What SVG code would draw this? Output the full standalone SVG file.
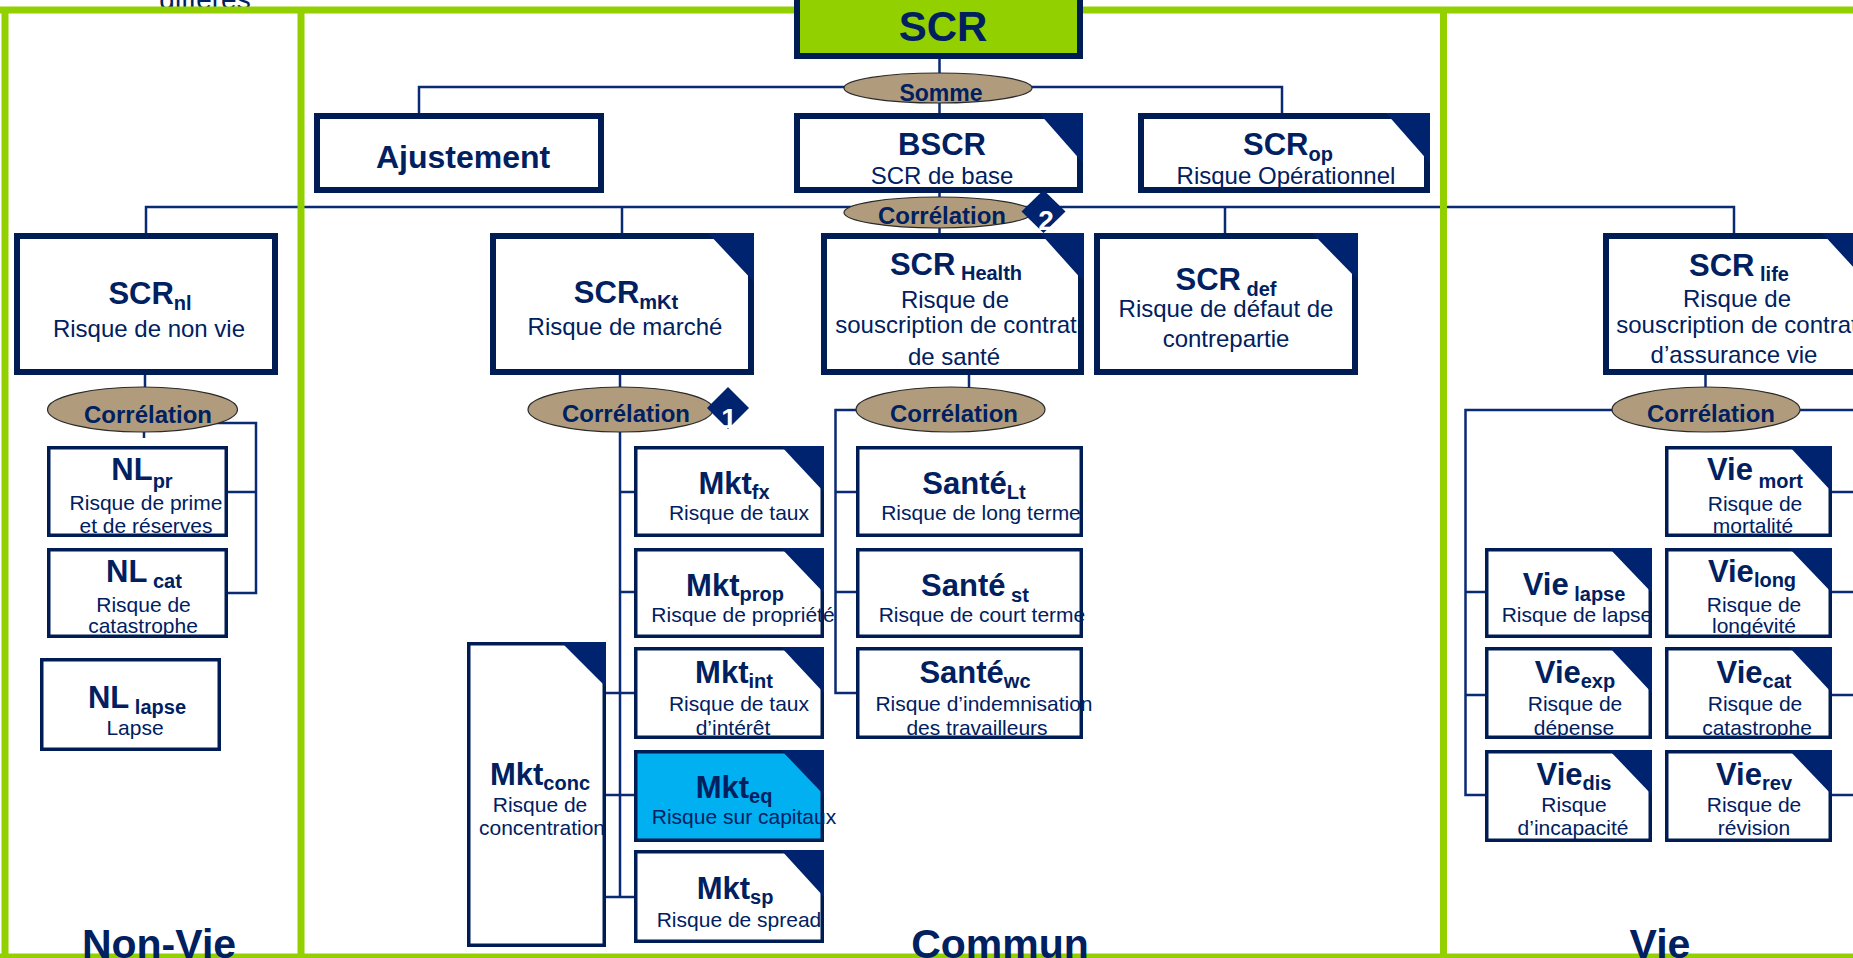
<svg xmlns="http://www.w3.org/2000/svg" width="1853" height="958" viewBox="0 0 1853 958">
<style>
.frame{stroke:#92D000;stroke-width:7;fill:none}
.conn{stroke:#0A2A73;stroke-width:2.5;fill:none}
.big{fill:#fff;stroke:#001C55;stroke-width:6}
.small{fill:#fff;stroke:#001C55;stroke-width:3.5}
.tri{fill:#00236F}
.ell{fill:#B09C7C;stroke:#2a2a2a;stroke-width:1.2}
.dia{fill:#00236F}
text{font-family:"Liberation Sans",Arial,sans-serif;fill:#002060;text-anchor:middle}
.title{font-weight:bold;font-size:31px}
.sub{font-size:20px}
.desc{font-size:21px}
.descL{font-size:24px}
.corr{font-weight:bold;font-size:24px}
.sect{font-weight:bold;font-size:41px}
.num{font-weight:bold;font-size:28px;fill:#fff}
</style>
<rect x="0" y="0" width="1853" height="958" fill="#fff"/>
<text x="205" y="9" style="font-size:28px">différés</text>
<g id="connectors">
<path class="conn" d="M939.5 59V113M419 113V87H1282V113"/>
<path class="conn" d="M939.5 193V233M146 233V207H1734V233M622 207V233M1225 207V233"/>
<path class="conn" d="M145 375V387M144 432V438M200 423H256V593H228M228 492H256"/>
<path class="conn" d="M620 375V897M620 492H634M620 592H634M606 693H634M606 795H634M606 897H634"/>
<path class="conn" d="M969 375V387M860 410H835.5V693H856M835.5 492H856M835.5 592H856"/>
<path class="conn" d="M1705.5 375V387M1615 410H1465.5V795H1485M1465.5 592H1485M1465.5 695H1485M1800 410H1862V795H1832M1832 492H1862M1832 592H1862M1832 695H1862"/>
</g>
<g id="frame">
<path class="frame" d="M0 10H1853M5 10V958M301 10V958M1443.5 10V958M0 957H1853"/>
</g>
<g id="scr"><rect x="797" y="-7" width="283" height="63" style="fill:#92D000;stroke:#001C55;stroke-width:6"/><text x="943" y="41" style="font-weight:bold;font-size:42px">SCR</text></g>
<g id="somme"><ellipse class="ell" cx="938" cy="88" rx="94" ry="15"/><text x="941" y="101" style="font-weight:bold;font-size:23px">Somme</text></g>
<g id="ajustement"><rect class="big" x="317" y="116" width="284" height="74"/><text x="463" y="168" style="font-weight:bold;font-size:32px">Ajustement</text></g>
<g id="bscr"><rect class="big" x="797" y="116" width="283" height="74"/><polygon class="tri" points="1039,113 1083,113 1083,163"/><text class="title" x="942" y="155">BSCR</text><text class="descL" x="942" y="184">SCR de base</text></g>
<g id="scrop"><rect class="big" x="1141" y="116" width="286" height="74"/><polygon class="tri" points="1386,113 1430,113 1430,163"/><text class="title" x="1288" y="155">SCR<tspan class="sub" dy="6">op</tspan></text><text class="descL" x="1286" y="184">Risque Opérationnel</text></g>
<g id="corr-bscr"><ellipse class="ell" cx="938" cy="212.5" rx="94" ry="15.5"/><text class="corr" x="942" y="224">Corrélation</text><polygon class="dia" points="1043.5,190 1065.5,211.5 1043.5,233 1021.5,211.5"/><text class="num" x="1046" y="230">2</text></g>
<g id="scrnl"><rect class="big" x="17" y="236" width="258" height="136"/><text class="title" x="150" y="304">SCR<tspan class="sub" dy="6">nl</tspan></text><text class="descL" x="149" y="337">Risque de non vie</text></g>
<g id="scrmkt"><rect class="big" x="493" y="236" width="258" height="136"/><polygon class="tri" points="708,233 754,233 754,282"/><text class="title" x="626" y="303">SCR<tspan class="sub" dy="6">mKt</tspan></text><text class="descL" x="625" y="335">Risque de marché</text></g>
<g id="scrhealth"><rect class="big" x="824" y="236" width="257" height="136"/><polygon class="tri" points="1040,233 1084,233 1084,282"/><text class="title" x="956" y="275">SCR<tspan class="sub" dy="5"> Health</tspan></text><text class="descL" x="955" y="308">Risque de</text><text class="descL" x="956" y="333">souscription de contrat</text><text class="descL" x="954" y="365">de santé</text></g>
<g id="scrdef"><rect class="big" x="1097" y="236" width="258" height="136"/><polygon class="tri" points="1312,233 1358,233 1358,280"/><text class="title" x="1226" y="290">SCR<tspan class="sub" dy="6"> def</tspan></text><text class="descL" x="1226" y="317">Risque de défaut de</text><text class="descL" x="1226" y="347">contrepartie</text></g>
<g id="scrlife"><rect class="big" x="1606" y="236" width="258" height="136"/><polygon class="tri" points="1822,233 1867,233 1867,282"/><text class="title" x="1739" y="276">SCR<tspan class="sub" dy="5"> life</tspan></text><text class="descL" x="1737" y="307">Risque de</text><text class="descL" x="1737" y="333">souscription de contrat</text><text class="descL" x="1734" y="363">d’assurance vie</text></g>
<g id="corr-nl"><ellipse class="ell" cx="142.5" cy="409.5" rx="95" ry="22.5"/><text class="corr" x="148" y="423">Corrélation</text></g>
<g id="corr-mkt"><ellipse class="ell" cx="620.5" cy="409.5" rx="92.5" ry="22.5"/><text class="corr" x="626" y="422">Corrélation</text><polygon class="dia" points="728,387 749,408 728,429 707,408"/><text class="num" x="729" y="428">1</text></g>
<g id="corr-health"><ellipse class="ell" cx="950.5" cy="409.5" rx="94.5" ry="22.5"/><text class="corr" x="954" y="422">Corrélation</text></g>
<g id="corr-life"><ellipse class="ell" cx="1706" cy="409.5" rx="94" ry="22.5"/><text class="corr" x="1711" y="422">Corrélation</text></g>
<g id="nlpr"><rect class="small" x="48.75" y="447.75" width="177.5" height="87.5"/><text class="title" x="142" y="480">NL<tspan class="sub" dy="8">pr</tspan></text><text class="desc" x="146" y="510">Risque de prime</text><text class="desc" x="146" y="533">et de réserves</text></g>
<g id="nlcat"><rect class="small" x="48.75" y="549.75" width="177.5" height="86.5"/><text class="title" x="144" y="582">NL<tspan class="sub" dy="6"> cat</tspan></text><text class="desc" x="143.5" y="612">Risque de</text><text class="desc" x="143" y="633">catastrophe</text></g>
<g id="nllapse"><rect class="small" x="41.75" y="659.75" width="177.5" height="89.5"/><text class="title" x="137" y="708">NL<tspan class="sub" dy="6"> lapse</tspan></text><text class="desc" x="135" y="735">Lapse</text></g>
<g id="mktfx"><rect class="small" x="635.75" y="447.75" width="186.5" height="87.5"/><polygon class="tri" points="781,446 824,446 824,492"/><text class="title" x="734" y="494">Mkt<tspan class="sub" dy="5">fx</tspan></text><text class="desc" x="739" y="520">Risque de taux</text></g>
<g id="mktprop"><rect class="small" x="635.75" y="549.75" width="186.5" height="86.5"/><polygon class="tri" points="781,548 824,548 824,593"/><text class="title" x="735" y="596">Mkt<tspan class="sub" dy="5">prop</tspan></text><text class="desc" x="743" y="622">Risque de propriété</text></g>
<g id="mktint"><rect class="small" x="635.75" y="648.75" width="186.5" height="88.5"/><polygon class="tri" points="781,647 824,647 824,693"/><text class="title" x="734" y="683">Mkt<tspan class="sub" dy="5">int</tspan></text><text class="desc" x="739" y="711">Risque de taux</text><text class="desc" x="733" y="735">d’intérêt</text></g>
<g id="mkteq"><rect class="small" x="635.75" y="751.75" width="186.5" height="88.5" style="fill:#00B0F0"/><polygon class="tri" points="781,750 824,750 824,795"/><text class="title" x="734" y="798">Mkt<tspan class="sub" dy="5">eq</tspan></text><text class="desc" x="744" y="824">Risque sur capitaux</text></g>
<g id="mktsp"><rect class="small" x="635.75" y="851.75" width="186.5" height="89.5"/><polygon class="tri" points="781,850 824,850 824,897"/><text class="title" x="735" y="899">Mkt<tspan class="sub" dy="5">sp</tspan></text><text class="desc" x="739" y="927">Risque de spread</text></g>
<g id="mktconc"><rect class="small" x="468.75" y="643.75" width="135.5" height="301.5"/><polygon class="tri" points="561,642 606,642 606,687"/><text class="title" x="540" y="785">Mkt<tspan class="sub" dy="5">conc</tspan></text><text class="desc" x="540" y="812">Risque de</text><text class="desc" x="542" y="835">concentration</text></g>
<g id="santelt"><rect class="small" x="857.75" y="447.75" width="223.5" height="87.5"/><text class="title" x="974" y="494">Santé<tspan class="sub" dy="5">Lt</tspan></text><text class="desc" x="981" y="520">Risque de long terme</text></g>
<g id="santest"><rect class="small" x="857.75" y="549.75" width="223.5" height="86.5"/><text class="title" x="975" y="596">Santé<tspan class="sub" dy="6"> st</tspan></text><text class="desc" x="982" y="622">Risque de court terme</text></g>
<g id="santewc"><rect class="small" x="857.75" y="648.75" width="223.5" height="88.5"/><text class="title" x="975" y="683">Santé<tspan class="sub" dy="5">wc</tspan></text><text class="desc" x="984" y="711">Risque d’indemnisation</text><text class="desc" x="977" y="735">des travailleurs</text></g>
<g id="viemort"><rect class="small" x="1666.75" y="447.75" width="163.5" height="87.5"/><polygon class="tri" points="1789,446 1832,446 1832,492"/><text class="title" x="1755" y="480">Vie<tspan class="sub" dy="8"> mort</tspan></text><text class="desc" x="1755" y="511">Risque de</text><text class="desc" x="1753" y="533">mortalité</text></g>
<g id="vielapse"><rect class="small" x="1486.75" y="549.75" width="163.5" height="86.5"/><polygon class="tri" points="1609,548 1652,548 1652,593"/><text class="title" x="1574" y="595">Vie<tspan class="sub" dy="6"> lapse</tspan></text><text class="desc" x="1577" y="622">Risque de lapse</text></g>
<g id="vielong"><rect class="small" x="1666.75" y="549.75" width="163.5" height="86.5"/><polygon class="tri" points="1789,548 1832,548 1832,593"/><text class="title" x="1752" y="582">Vie<tspan class="sub" dy="5">long</tspan></text><text class="desc" x="1754" y="612">Risque de</text><text class="desc" x="1754" y="633">longévité</text></g>
<g id="vieexp"><rect class="small" x="1486.75" y="648.75" width="163.5" height="88.5"/><polygon class="tri" points="1609,647 1652,647 1652,693"/><text class="title" x="1575" y="683">Vie<tspan class="sub" dy="5">exp</tspan></text><text class="desc" x="1575" y="711">Risque de</text><text class="desc" x="1574" y="735">dépense</text></g>
<g id="viecat"><rect class="small" x="1666.75" y="648.75" width="163.5" height="88.5"/><polygon class="tri" points="1789,647 1832,647 1832,693"/><text class="title" x="1754" y="683">Vie<tspan class="sub" dy="5">cat</tspan></text><text class="desc" x="1755" y="711">Risque de</text><text class="desc" x="1757" y="735">catastrophe</text></g>
<g id="viedis"><rect class="small" x="1486.75" y="751.75" width="163.5" height="88.5"/><polygon class="tri" points="1609,750 1652,750 1652,795"/><text class="title" x="1574" y="785">Vie<tspan class="sub" dy="5">dis</tspan></text><text class="desc" x="1574" y="812">Risque</text><text class="desc" x="1573" y="835">d’incapacité</text></g>
<g id="vierev"><rect class="small" x="1666.75" y="751.75" width="163.5" height="88.5"/><polygon class="tri" points="1789,750 1832,750 1832,795"/><text class="title" x="1754" y="785">Vie<tspan class="sub" dy="5">rev</tspan></text><text class="desc" x="1754" y="812">Risque de</text><text class="desc" x="1754" y="835">révision</text></g>
<g id="sections"><text class="sect" x="159" y="958">Non-Vie</text><text class="sect" x="1000" y="958">Commun</text><text class="sect" x="1660" y="958">Vie</text></g>
</svg>
